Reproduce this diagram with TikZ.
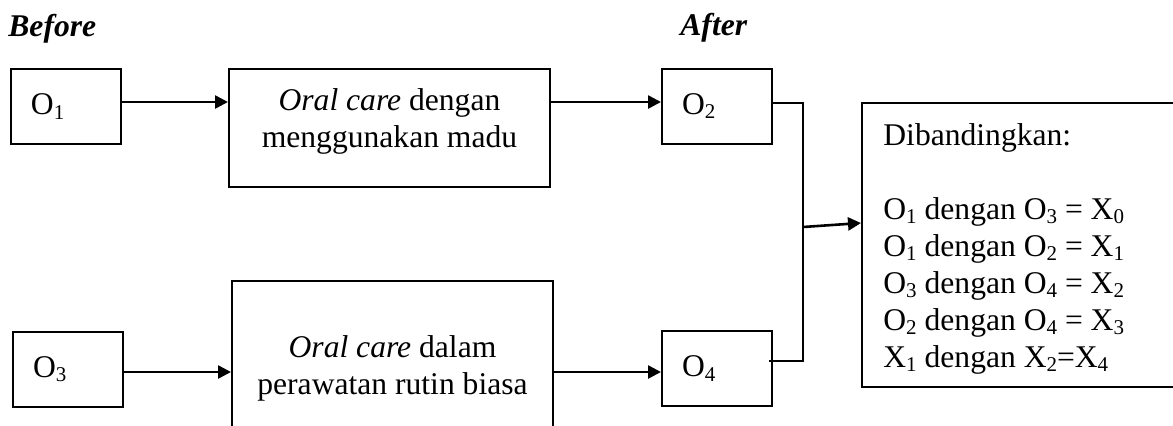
\documentclass[tikz,border=0pt]{standalone}
\usepackage{fontspec}
\setmainfont{Liberation Serif}
\usetikzlibrary{arrows.meta}
% subscript at two thirds of the body size, slightly lowered
\newcommand\lo[1]{\raisebox{-2.2pt}{\fontsize{10.5pt}{12pt}\selectfont #1}}
\begin{document}
\begin{tikzpicture}[x=0.5pt,y=-0.5pt,
  font=\fontsize{15.8pt}{18.5pt}\selectfont,
  box/.style={draw, line width=1pt, inner sep=0pt},
  obox/.style={box, minimum width=55pt, minimum height=37.5pt,
    text width=35pt, inner xsep=10pt, align=left},
  txt/.style={inner sep=0pt, align=center},
  arr/.style={line width=1.3pt, -{Triangle[length=6.5pt,width=6.5pt]}},
  link/.style={line width=0.8pt},
  head/.style={inner sep=0pt, anchor=base west,
    font=\fontsize{15.8pt}{18.5pt}\selectfont\bfseries\itshape}]
\useasboundingbox (0,0) rectangle (1173,425);
\clip (0,0) rectangle (1173,425);

% headings
\node[head] (before) at (8,36) {Before};
\node[head] (after) at (680,35) {After};

% observation boxes
\node[obox] (o1) at (66,106.5) {O\lo1};
\node[obox] (o2) at (717,106) {O\lo2};
\node[obox] (o3) at (68,369) {O\lo3};
\node[obox] (o4) at (717,368.5) {O\lo4};

% treatment boxes
\node[box, minimum width=160.5pt, minimum height=59pt] (m1) at (389.5,128) {};
\node[txt, anchor=north] (m1t) at (389.5,88.2)
  {\textit{Oral care} dengan\\menggunakan madu};
\node[box, minimum width=160.5pt, minimum height=82pt] (m2) at (392.5,363) {};
\node[txt, anchor=north] (m2t) at (392.5,335)
  {\textit{Oral care} dalam\\perawatan rutin biasa};

% comparison box
\node[box, minimum width=164pt, minimum height=142pt] (r) at (1026,245) {};
\node[txt, align=left, anchor=north west] (rt) at (883,123)
  {Dibandingkan:\\[18.5pt]O\lo1 dengan O\lo3 = X\lo0\\
   O\lo1 dengan O\lo2 = X\lo1\\
   O\lo3 dengan O\lo4 = X\lo2\\
   O\lo2 dengan O\lo4 = X\lo3\\
   X\lo1 dengan X\lo2=X\lo4};

% flow arrows
\coordinate (r1) at (0,102);
\coordinate (r2) at (0,372);
\draw[arr] (o1.east |- r1) -- (m1.west |- r1);
\draw[arr] (m1.east |- r1) -- (o2.west |- r1);
\draw[arr] (o3.east |- r2) -- (m2.west |- r2);
\draw[arr] (m2.east |- r2) -- (o4.west |- r2);

% joining bracket
\coordinate (jt) at (803,103);
\coordinate (jb) at (803,361);
\coordinate (jm) at (803,227);
\draw[link] (o2.east |- jt) -- (jt) -- (jb) -- ([xshift=-2pt]o4.east |- jb);
\draw[arr] (jm) -- ([yshift=11pt]r.west);
\end{tikzpicture}
\end{document}
